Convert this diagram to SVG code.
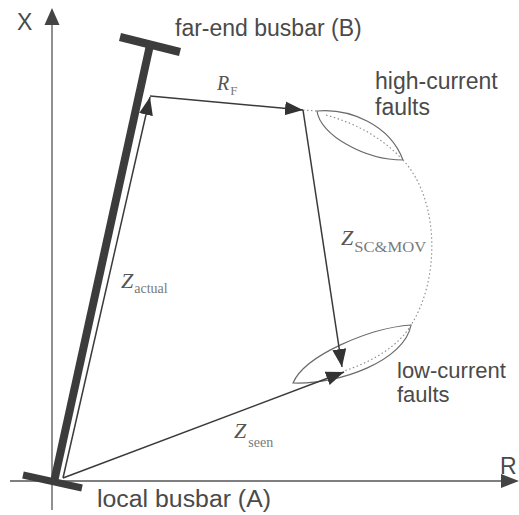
<svg xmlns="http://www.w3.org/2000/svg" width="519" height="515" viewBox="0 0 519 515">
<style>
.axis{stroke:#555;stroke-width:1.3;fill:none}
.bus{stroke:#3c3c3c;stroke-width:8;stroke-linecap:butt;fill:none}
.vec{stroke:#3a3a3a;stroke-width:1.5;fill:none;marker-end:url(#ah)}
.lens{stroke:#6a6a6a;stroke-width:1.2;fill:none}
.dot{stroke:#8a8a8a;stroke-width:1.1;fill:none;stroke-dasharray:1.5 2.5}
.lbl{font-family:"Liberation Sans",Arial,sans-serif;font-size:23px;fill:#4a4a4a}
.sym{font-family:"Liberation Serif","Times New Roman",serif;font-style:italic;fill:#555}
.sub{font-family:"Liberation Serif","Times New Roman",serif;font-style:normal;fill:#7a7a7a}
</style>
<defs>
<marker id="ah" markerUnits="userSpaceOnUse" markerWidth="20" markerHeight="16" refX="18" refY="7" orient="auto">
<path d="M0,0 L18,7 L0,14 Z" fill="#333"/>
</marker>
</defs>
<g id="axes">
<line class="axis" x1="52" y1="510" x2="52" y2="22"/>
<polygon points="52,8 44.5,25 59.5,25" fill="#444"/>
<line class="axis" x1="10" y1="481" x2="503" y2="481"/>
<polygon points="519,481 501,474 501,488" fill="#444"/>
<text class="lbl" x="17" y="30">X</text>
<text class="lbl" x="500" y="474">R</text>
</g>
<g id="line-AB">
<line class="bus" x1="150" y1="45" x2="54" y2="482"/>
<line class="bus" x1="120" y1="37" x2="180" y2="52"/>
<line class="bus" x1="23" y1="475" x2="82" y2="488" style="stroke-width:7"/>
</g>
<g id="busbar-B-label"><text class="lbl" x="175" y="36">far-end busbar (B)</text></g>
<g id="busbar-A-label"><text class="lbl" x="97" y="507" textLength="174" lengthAdjust="spacingAndGlyphs">local busbar (A)</text></g>
<g id="high-current-faults">
<path class="lens" d="M317,111 C350,108 390,125 403,160 C365,160 320,135 317,111 Z"/>
<path class="dot" d="M326,115 Q372,128 400,157"/>
<text class="lbl" x="375" y="89">high-current</text>
<text class="lbl" x="375" y="115">faults</text>
</g>
<g id="low-current-faults">
<path class="lens" d="M293,383 C305,355 370,328 411,325 C405,360 340,385 293,383 Z"/>
<path class="dot" d="M411,325 C400,345 372,362 344,371"/>
<text class="lbl" x="397" y="378" style="font-size:22px">low-current</text>
<text class="lbl" x="397" y="402" style="font-size:22px">faults</text>
</g>
<g id="locus">
<path class="dot" d="M303,110 L317,111"/>
<path class="dot" d="M403,160 C440,200 440,280 411,325"/>
</g>
<g id="connectors">
<line class="vec" x1="63" y1="478" x2="150" y2="97"/>
<line class="vec" x1="150" y1="96" x2="303" y2="110"/>
<line class="vec" x1="303" y1="110" x2="342" y2="367"/>
<line class="vec" x1="63" y1="478" x2="344" y2="372"/>
</g>
<g id="vector-labels">
<text x="217" y="90"><tspan class="sym" font-size="20">R</tspan><tspan class="sub" font-size="13" dx="1" dy="5">F</tspan></text>
<text x="121" y="288"><tspan class="sym" font-size="22">Z</tspan><tspan class="sub" font-size="14" dx="1" dy="5">actual</tspan></text>
<text x="341" y="245"><tspan class="sym" font-size="22">Z</tspan><tspan class="sub" font-size="15" dx="1" dy="7" textLength="72" lengthAdjust="spacingAndGlyphs">SC&amp;MOV</tspan></text>
<text x="234" y="438"><tspan class="sym" font-size="22">Z</tspan><tspan class="sub" font-size="14" dx="2" dy="9">seen</tspan></text>
</g>
</svg>
